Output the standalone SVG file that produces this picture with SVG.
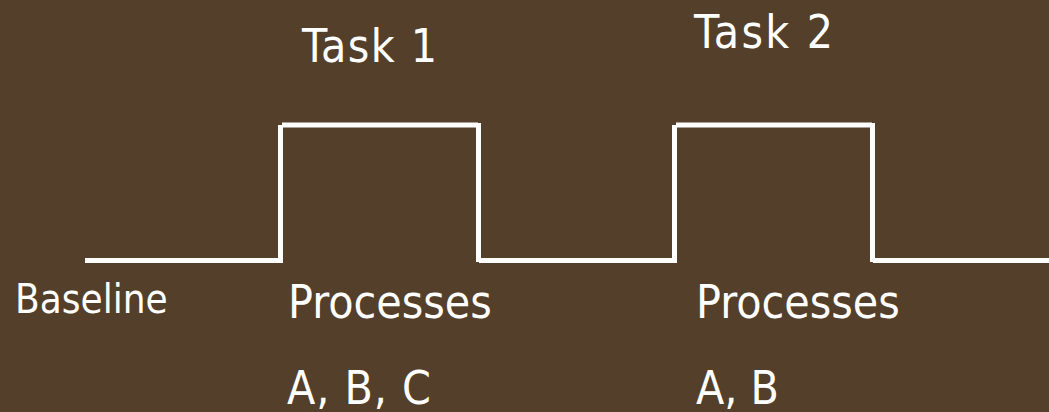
<svg xmlns="http://www.w3.org/2000/svg" width="1049" height="412" viewBox="0 0 1049 412">
  <style>
    .bg { fill: #543f2a; }
    .sig { stroke: #ffffff; stroke-width: 5; stroke-linecap: butt; fill: none; }
    .lbl { fill: #ffffff; font-family: "DejaVu Sans Condensed", "DejaVu Sans", sans-serif; font-stretch: condensed; }
    .big { font-size: 46px; }
    .small { font-size: 40px; }
  </style>
  <rect class="bg" x="0" y="0" width="1049" height="412"/>

  <!-- square-wave timing signal, drawn as separate segments -->
  <g id="connectors">
    <line class="sig" x1="85" y1="260.5" x2="281" y2="260.5"/>
    <line class="sig" x1="280.5" y1="125" x2="280.5" y2="263"/>
    <line class="sig" x1="282" y1="125" x2="478" y2="125"/>
    <line class="sig" x1="478.5" y1="123" x2="478.5" y2="262"/>
    <line class="sig" x1="479" y1="260.5" x2="674" y2="260.5"/>
    <line class="sig" x1="674.5" y1="125" x2="674.5" y2="263"/>
    <line class="sig" x1="676" y1="125" x2="872" y2="125"/>
    <line class="sig" x1="872.5" y1="123" x2="872.5" y2="262"/>
    <line class="sig" x1="873" y1="260.5" x2="1049" y2="260.5"/>
  </g>

  <g id="task1">
    <text class="lbl big" x="302" y="62" textLength="135" lengthAdjust="spacing">Task 1</text>
  </g>
  <g id="task2">
    <text class="lbl big" x="694" y="48" textLength="139" lengthAdjust="spacing">Task 2</text>
  </g>
  <g id="baseline">
    <text class="lbl small" x="15" y="313">Baseline</text>
  </g>
  <g id="processes1">
    <text class="lbl big" x="288" y="318">Processes</text>
    <text class="lbl big" x="287" y="404" textLength="144" lengthAdjust="spacing">A, B, C</text>
  </g>
  <g id="processes2">
    <text class="lbl big" x="696" y="318">Processes</text>
    <text class="lbl big" x="696" y="404">A, B</text>
  </g>
</svg>
